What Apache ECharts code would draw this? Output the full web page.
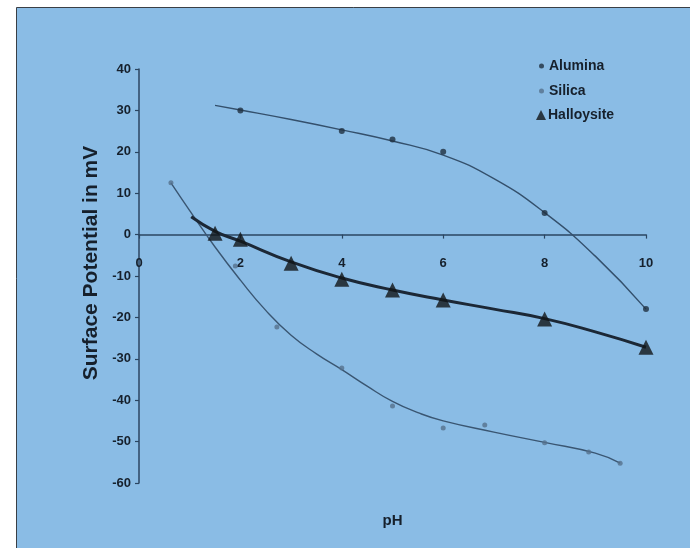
<!DOCTYPE html>
<html>
<head>
<meta charset="utf-8">
<script src="https://cdn.jsdelivr.net/npm/echarts@6/dist/echarts.min.js"></script>
<style>
html,body{margin:0;padding:0;background:#fff;}
#c{width:690px;height:548px;}
</style>
</head>
<body>
<div id="c"></div>
<script>
// Tick labels / axis ranges
const xTicks = [0, 2, 4, 6, 8, 10];
const yTicks = [-60, -50, -40, -30, -20, -10, 0, 10, 20, 30, 40];

// Measured points [pH, mV]
const aluminaPoints = [[2, 30], [4, 25], [5, 23], [6, 20], [8, 5.2], [10, -18]];
const silicaPoints = [[0.63, 12.5], [1.9, -7.6], [2.72, -22.3], [4, -32.2], [5, -41.4], [6, -46.7], [6.82, -46], [8, -50.3], [8.87, -52.5], [9.49, -55.2]];
const halloysitePoints = [[1.5, 0.3], [2, -1.1], [3, -6.9], [4, -10.8], [5, -13.4], [6, -15.8], [8, -20.4], [10, -27.2]];

// Trend lines [pH, mV]
const aluminaCurve = [[1.5, 31.2], [2, 30.1], [3, 27.8], [4, 25.3], [5, 22.6], [6, 19.2], [7, 13.5], [8, 5.3], [9, -5.2], [10, -18]];
const silicaCurve = [[0.63, 12.5], [1, 5.8], [1.5, -3.0], [2, -11], [2.5, -18.3], [3, -24.3], [3.5, -28.8], [4, -32.6], [4.5, -36.6], [5, -40.3], [5.5, -43], [6, -45], [7, -47.7], [8, -50.2], [9, -52.8], [9.49, -55.2]];
const halloysiteCurve = [[1.03, 4.3], [1.5, 0.8], [2, -1.6], [3, -6.6], [4, -10.5], [5, -13.4], [6, -15.8], [7, -18], [8, -20.3], [9, -23.5], [10, -27.2]];

const names = ['Alumina', 'Silica', 'Halloysite'];

const axisColor = '#2b4561';
const textColor = '#16202c';
const font = 'Liberation Sans, Arial, sans-serif';

const chart = echarts.init(document.getElementById('c'), null, {renderer: 'canvas'});

const legendText = {fontFamily: font, fontWeight: 'bold', fontSize: 14, color: textColor};

chart.setOption({
  animation: false,
  backgroundColor: '#ffffff',
  graphic: [{
    type: 'rect', z: -10, silent: true,
    shape: {x: 16.5, y: 7.5, width: 690, height: 560},
    style: {fill: '#8abce5', stroke: '#3a3f45', lineWidth: 1}
  }],
  grid: {left: 139, right: 44, top: 69, bottom: 65, containLabel: false, outerBoundsMode: 'none'},
  legend: [
    {data: [{name: names[0], icon: 'circle'}], left: 534, top: 54, itemWidth: 5, itemHeight: 5, textStyle: legendText},
    {data: [{name: names[1], icon: 'circle'}], left: 534, top: 79, itemWidth: 5, itemHeight: 5, textStyle: legendText},
    {data: [{name: names[2], icon: 'triangle'}], left: 531, top: 103, itemWidth: 10, itemHeight: 10,
     textStyle: Object.assign({}, legendText, {padding: [0, 0, 0, -3]})}
  ],
  xAxis: {
    type: 'value', min: xTicks[0], max: xTicks[xTicks.length - 1], interval: 2,
    name: 'pH', nameLocation: 'middle', nameGap: 30, nameMoveOverlap: false,
    nameTextStyle: {fontFamily: font, fontWeight: 'bold', fontSize: 15, color: textColor},
    axisLine: {onZero: true, lineStyle: {color: axisColor, width: 1.5}},
    axisTick: {show: true, length: 4, lineStyle: {color: axisColor, width: 1.2}},
    axisLabel: {margin: -226, fontFamily: font, fontWeight: 'bold', fontSize: 13, color: textColor},
    splitLine: {show: false}
  },
  yAxis: {
    type: 'value', min: yTicks[0], max: yTicks[yTicks.length - 1], interval: 10,
    name: 'Surface Potential in mV', nameLocation: 'middle', nameGap: 23,
    nameTextStyle: {fontFamily: font, fontWeight: 'bold', fontSize: 21, color: textColor, padding: [0, 0, 0, 26]},
    axisLine: {show: true, onZero: false, lineStyle: {color: axisColor, width: 1.5}},
    axisTick: {show: true, length: 4, lineStyle: {color: axisColor, width: 1.2}},
    axisLabel: {margin: 8, fontFamily: font, fontWeight: 'bold', fontSize: 13, color: textColor},
    splitLine: {show: false}
  },
  series: [
    {name: 'Alumina trend', type: 'line', data: aluminaCurve, smooth: 0.5, symbol: 'none',
     lineStyle: {color: '#34506c', width: 1.4}, silent: true, z: 2},
    {name: 'Silica trend', type: 'line', data: silicaCurve, smooth: 0.5, symbol: 'none',
     lineStyle: {color: '#3a5672', width: 1.4}, silent: true, z: 2},
    {name: 'Halloysite trend', type: 'line', data: halloysiteCurve, smooth: 0.5, symbol: 'none',
     lineStyle: {color: '#1c2836', width: 3}, silent: true, z: 2},
    {name: names[0], type: 'scatter', data: aluminaPoints, symbol: 'circle', symbolSize: 6,
     itemStyle: {color: '#1f2f40'}, z: 3},
    {name: names[1], type: 'scatter', data: silicaPoints, symbol: 'circle', symbolSize: 5,
     itemStyle: {color: '#55718c'}, z: 3},
    {name: names[2], type: 'scatter', data: halloysitePoints, symbol: 'triangle', symbolSize: 15,
     itemStyle: {color: '#111518'}, z: 4}
  ]
});
</script>
</body>
</html>
